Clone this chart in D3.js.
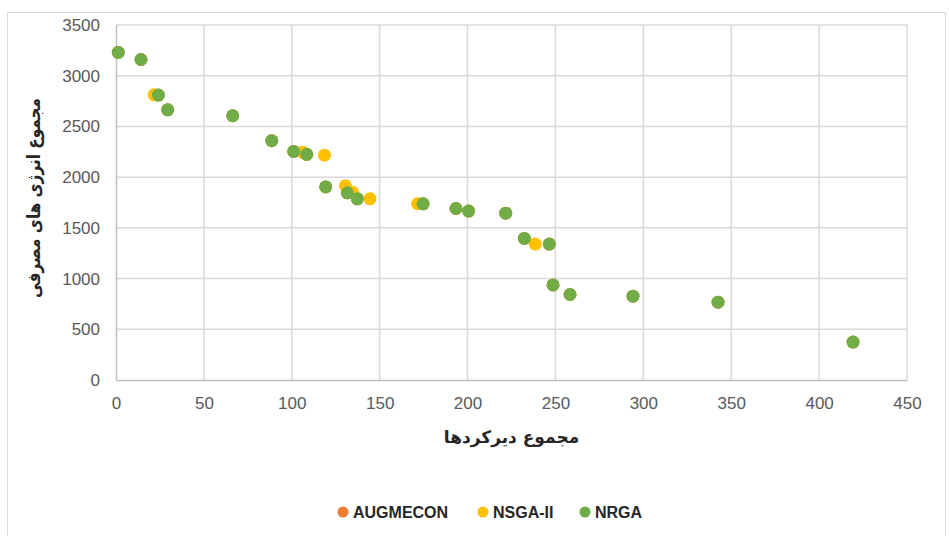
<!DOCTYPE html>
<html>
<head>
<meta charset="utf-8">
<script src="https://cdn.jsdelivr.net/npm/d3@7"></script>
<style>
  html, body { margin: 0; padding: 0; background: #ffffff; }
  svg { display: block; }
</style>
</head>
<body>
<svg id="chart" width="949" height="536"></svg>
<script>
// Series: [total delays, total energy consumption]
const seriesNames = ["AUGMECON", "NSGA-II", "NRGA"];
const seriesColors = ["#ED7D31", "#FFC000", "#70AD47"];

const augmecon = [
  [1.3, 3230], [14.2, 3160], [24.1, 2809], [29.4, 2664], [66.4, 2605],
  [88.6, 2360], [101.1, 2254], [108.5, 2225], [119.3, 1904], [131.6, 1845],
  [137.3, 1786], [174.7, 1737], [193.4, 1691], [200.6, 1665], [221.7, 1645],
  [232.3, 1396], [246.5, 1340], [248.6, 937], [258.3, 843], [294.1, 826],
  [342.5, 767], [419.3, 374]
];

const nsga2 = [
  [21.7, 2812], [106.2, 2245], [118.6, 2217], [130.5, 1915], [134.6, 1851],
  [144.5, 1786], [171.6, 1738], [238.5, 1340]
];

const nrga = [
  [1.3, 3230], [14.2, 3160], [24.1, 2809], [29.4, 2664], [66.4, 2605],
  [88.6, 2360], [101.1, 2254], [108.5, 2225], [119.3, 1904], [131.6, 1845],
  [137.3, 1786], [174.7, 1737], [193.4, 1691], [200.6, 1665], [221.7, 1645],
  [232.3, 1396], [246.5, 1340], [248.6, 937], [258.3, 843], [294.1, 826],
  [342.5, 767], [419.3, 374]
];

const xTicks = [0, 50, 100, 150, 200, 250, 300, 350, 400, 450];
const yTicks = [0, 500, 1000, 1500, 2000, 2500, 3000, 3500];

const xTitle = "مجموع دیرکردها";
const yTitle = "مجموع انرژی های مصرفی";

const W = 949, H = 536;
const margin = { top: 25, right: 42, bottom: 156, left: 116 };

const svg = d3.select("#chart");

// outer chart frame
svg.append("rect")
  .attr("x", 7.5).attr("y", 12.5)
  .attr("width", 938).attr("height", 540)
  .attr("fill", "#ffffff")
  .attr("stroke", "#d9d9d9").attr("stroke-width", 1);

const x = d3.scaleLinear().domain([0, 450]).range([margin.left, W - margin.right]);
const y = d3.scaleLinear().domain([0, 3500]).range([H - margin.bottom, margin.top]);

// gridlines
const grid = svg.append("g");
grid.selectAll("line.v").data(xTicks.filter(d => d > 0)).join("line")
  .attr("x1", d => x(d)).attr("x2", d => x(d))
  .attr("y1", y(0)).attr("y2", y(3500))
  .attr("stroke", "#d9d9d9").attr("stroke-width", 1.5);
grid.selectAll("line.h").data(yTicks.filter(d => d > 0)).join("line")
  .attr("x1", x(0)).attr("x2", x(450))
  .attr("y1", d => y(d)).attr("y2", d => y(d))
  .attr("stroke", "#d9d9d9").attr("stroke-width", 1.5);

// axes
const tickFont = "'Liberation Sans', Arial, sans-serif";
const xAxis = svg.append("g")
  .attr("transform", `translate(0,${y(0)})`)
  .call(d3.axisBottom(x).tickValues(xTicks).tickSize(0).tickPadding(17).tickFormat(d3.format("d")));
const yAxis = svg.append("g")
  .attr("transform", `translate(${x(0)},0)`)
  .call(d3.axisLeft(y).tickValues(yTicks).tickSize(0).tickPadding(16).tickFormat(d3.format("d")));

[xAxis, yAxis].forEach(g => {
  g.select(".domain").attr("stroke", "#bfbfbf").attr("stroke-width", 1.5);
  g.selectAll("text")
    .attr("fill", "#595959")
    .style("font-family", tickFont)
    .style("font-size", "17px");
});

// axis titles
svg.append("text")
  .attr("x", (x(0) + x(450)) / 2)
  .attr("y", 443)
  .attr("text-anchor", "middle")
  .attr("direction", "rtl")
  .attr("fill", "#262626")
  .style("font-family", "'DejaVu Sans', sans-serif")
  .style("font-weight", "bold")
  .style("font-size", "17px")
  .text(xTitle);

svg.append("text")
  .attr("transform", `translate(40,198) rotate(-90)`)
  .attr("text-anchor", "middle")
  .attr("direction", "rtl")
  .attr("fill", "#262626")
  .attr("textLength", 200)
  .attr("lengthAdjust", "spacingAndGlyphs")
  .style("font-family", "'DejaVu Sans', sans-serif")
  .style("font-weight", "bold")
  .style("font-size", "18px")
  .text(yTitle);

// points, drawn in series order
const allSeries = [augmecon, nsga2, nrga];
allSeries.forEach((data, i) => {
  svg.append("g").selectAll("circle").data(data).join("circle")
    .attr("cx", d => x(d[0]))
    .attr("cy", d => y(d[1]))
    .attr("r", 6.5)
    .attr("fill", seriesColors[i]);
});

// legend
const legendX = [343, 483, 585];
const legend = svg.append("g");
seriesNames.forEach((name, i) => {
  legend.append("circle")
    .attr("cx", legendX[i]).attr("cy", 512).attr("r", 5.5)
    .attr("fill", seriesColors[i]);
  legend.append("text")
    .attr("x", legendX[i] + 10).attr("y", 518)
    .attr("fill", "#262626")
    .style("font-family", tickFont)
    .style("font-weight", "bold")
    .style("font-size", "16px")
    .text(name);
});
</script>
</body>
</html>
